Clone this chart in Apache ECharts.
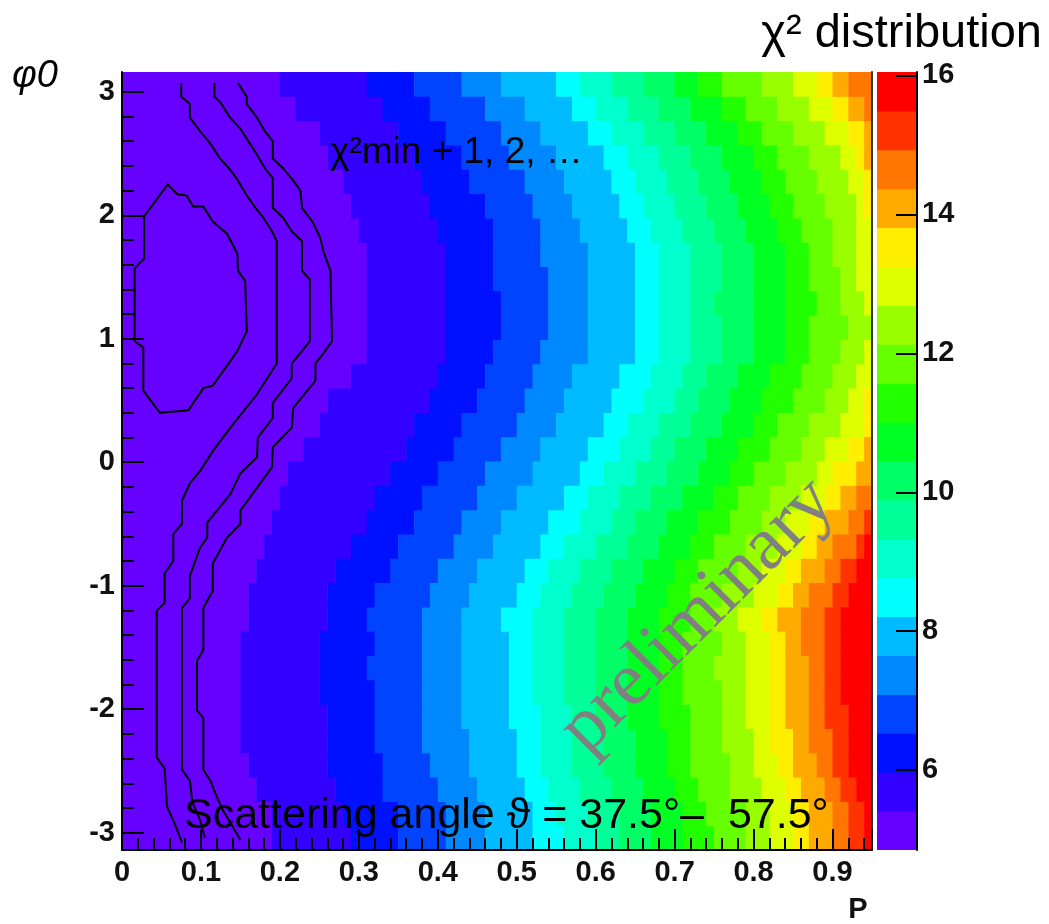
<!DOCTYPE html>
<html>
<head>
<meta charset="utf-8">
<title>χ² distribution</title>
<script src="https://cdn.jsdelivr.net/npm/echarts@6.0.0/dist/echarts.min.js"></script>
<style>
  html, body { margin: 0; padding: 0; background: #fff; }
  #chart { width: 1049px; height: 924px; }
</style>
</head>
<body>
<div id="chart"></div>
<script>
// chi2 contour levels (colour band edges)
var levelEdges = [4.85, 5.41, 5.97, 6.53, 7.09, 7.65, 8.21, 8.77, 9.33, 9.89, 10.45,
                  11.01, 11.57, 12.13, 12.69, 13.25, 13.81, 14.37, 14.93, 15.49, 16.05];
var bandColors = ['#6600ff', '#3300ff', '#0011ff', '#0044ff', '#0088ff', '#00bbff', '#00ffff',
                  '#00ffcc', '#00ff99', '#00ff66', '#00ff22', '#22ff00', '#66ff00', '#99ff00',
                  '#ddff00', '#ffee00', '#ffaa00', '#ff7700', '#ff3300', '#ff0000'];

// P bins (0.01 wide, 0 .. 0.95) and phi0 range
var pBinWidth = 0.01;
var nPBins = 95;
var phiMin = -3.14, phiMax = 3.16;

// for each phi0 row (bottom -> top): P bin at which colour band 1..19 starts (95 = not reached)
var bandStartCol = [
  [19, 29, 35, 41, 46, 52, 56, 60, 63, 67, 71, 75, 79, 82, 85, 87, 90, 92, 94],
  [19, 28, 35, 41, 46, 52, 55, 59, 63, 67, 71, 74, 79, 82, 85, 87, 90, 92, 94],
  [17, 27, 33, 40, 45, 51, 54, 58, 62, 66, 70, 73, 77, 81, 84, 86, 89, 91, 93],
  [16, 26, 33, 39, 44, 50, 53, 57, 61, 65, 69, 72, 77, 80, 83, 85, 88, 90, 92],
  [15, 26, 32, 38, 44, 50, 53, 57, 61, 65, 69, 72, 76, 80, 82, 85, 87, 90, 92],
  [15, 26, 32, 38, 43, 49, 53, 57, 60, 64, 68, 72, 76, 79, 82, 84, 87, 89, 92],
  [15, 25, 32, 38, 43, 49, 52, 56, 60, 64, 68, 71, 76, 79, 82, 84, 87, 89, 91],
  [15, 25, 31, 38, 43, 49, 52, 56, 60, 64, 68, 71, 75, 79, 82, 84, 87, 89, 91],
  [15, 25, 32, 38, 43, 49, 52, 56, 60, 64, 68, 71, 76, 79, 82, 84, 86, 89, 91],
  [16, 26, 31, 38, 43, 48, 52, 56, 60, 64, 68, 72, 75, 78, 81, 83, 86, 89, 91],
  [16, 26, 32, 39, 44, 50, 53, 57, 61, 65, 69, 72, 76, 80, 83, 85, 87, 90, 92],
  [17, 27, 34, 40, 45, 51, 54, 58, 62, 66, 70, 73, 78, 81, 84, 86, 89, 91, 93],
  [18, 29, 35, 42, 47, 53, 56, 60, 64, 68, 72, 75, 79, 83, 86, 88, 90, 93, 94],
  [19, 31, 37, 43, 48, 54, 58, 62, 65, 69, 73, 77, 81, 84, 87, 89, 92, 94, 95],
  [20, 32, 38, 45, 50, 56, 59, 63, 67, 71, 75, 78, 82, 86, 89, 91, 93, 95, 95],
  [21, 34, 40, 46, 52, 58, 61, 65, 69, 73, 77, 80, 84, 88, 90, 93, 95, 95, 95],
  [23, 36, 42, 48, 53, 59, 63, 67, 70, 74, 78, 82, 86, 89, 92, 94, 95, 95, 95],
  [25, 37, 43, 50, 55, 61, 64, 68, 72, 76, 80, 83, 87, 91, 94, 95, 95, 95, 95],
  [26, 39, 45, 51, 56, 62, 66, 70, 73, 77, 81, 85, 89, 92, 94, 95, 95, 95, 95],
  [29, 40, 46, 52, 57, 63, 67, 71, 74, 78, 82, 86, 90, 93, 95, 95, 95, 95, 95],
  [31, 41, 47, 53, 59, 65, 68, 72, 76, 80, 84, 87, 91, 94, 95, 95, 95, 95, 95],
  [31, 41, 48, 54, 59, 65, 68, 72, 76, 80, 84, 87, 92, 95, 95, 95, 95, 95, 95],
  [31, 41, 48, 54, 59, 65, 68, 72, 75, 80, 84, 88, 91, 94, 95, 95, 95, 95, 95],
  [31, 41, 47, 54, 59, 65, 68, 72, 76, 80, 84, 87, 91, 93, 95, 95, 95, 95, 95],
  [31, 41, 47, 53, 59, 65, 68, 72, 76, 80, 84, 87, 90, 93, 95, 95, 95, 95, 95],
  [30, 40, 47, 53, 58, 64, 67, 71, 75, 79, 83, 86, 90, 93, 95, 95, 95, 95, 95],
  [29, 39, 46, 52, 57, 63, 66, 70, 74, 78, 82, 85, 89, 93, 94, 95, 95, 95, 95],
  [28, 38, 44, 51, 56, 62, 65, 69, 73, 77, 81, 84, 88, 92, 94, 95, 95, 95, 95],
  [26, 37, 43, 49, 55, 61, 64, 68, 72, 76, 80, 83, 87, 91, 93, 94, 95, 95, 95],
  [25, 35, 41, 48, 53, 59, 62, 66, 70, 74, 78, 81, 85, 89, 92, 94, 95, 95, 95],
  [22, 33, 39, 46, 51, 57, 60, 64, 68, 72, 76, 79, 83, 87, 90, 92, 94, 95, 95],
  [20, 31, 37, 43, 48, 55, 58, 62, 66, 70, 73, 76, 81, 85, 88, 90, 92, 95, 95]
];

// chi2min + 1, 2, 3, 4 contours, [P, phi0]
var contour1 = [[0.028, 1.99], [0.058, 2.25], [0.070, 2.17], [0.082, 2.16], [0.090, 2.07], [0.103, 2.07],
  [0.115, 1.95], [0.133, 1.85], [0.146, 1.69], [0.147, 1.55], [0.156, 1.47], [0.158, 1.06], [0.146, 0.90],
  [0.115, 0.62], [0.103, 0.60], [0.084, 0.42], [0.048, 0.40], [0.027, 0.58], [0.027, 0.93], [0.016, 0.98],
  [0.016, 1.57], [0.028, 1.65], [0.028, 1.99]];
var contour2 = [[0.075, 3.07], [0.075, 2.96], [0.086, 2.90], [0.086, 2.79], [0.099, 2.68], [0.112, 2.58],
  [0.124, 2.46], [0.137, 2.37], [0.147, 2.28], [0.158, 2.16], [0.169, 2.06], [0.179, 1.98], [0.190, 1.87],
  [0.196, 1.79], [0.196, 0.80], [0.171, 0.55], [0.141, 0.31], [0.115, 0.09], [0.099, -0.07], [0.086, -0.17],
  [0.076, -0.31], [0.076, -0.50], [0.065, -0.58], [0.065, -0.80], [0.054, -0.90], [0.054, -1.14],
  [0.044, -1.20], [0.044, -2.39], [0.054, -2.48], [0.057, -2.79], [0.065, -2.90], [0.076, -3.08]];
var contour3 = [[0.117, 3.07], [0.117, 2.96], [0.124, 2.92], [0.137, 2.79], [0.150, 2.70], [0.160, 2.60],
  [0.171, 2.49], [0.181, 2.38], [0.191, 2.30], [0.191, 2.06], [0.204, 1.98], [0.215, 1.87], [0.228, 1.79],
  [0.228, 1.55], [0.238, 1.48], [0.238, 0.98], [0.228, 0.90], [0.215, 0.80], [0.215, 0.68], [0.191, 0.48],
  [0.191, 0.36], [0.172, 0.20], [0.171, 0.04], [0.150, -0.09], [0.137, -0.26], [0.108, -0.49],
  [0.108, -0.61], [0.099, -0.69], [0.086, -0.92], [0.086, -1.10], [0.076, -1.18], [0.076, -2.49],
  [0.086, -2.58], [0.089, -2.75], [0.099, -2.90], [0.105, -3.04]];
var contour4 = [[0.147, 3.07], [0.158, 2.96], [0.158, 2.90], [0.171, 2.79], [0.181, 2.68], [0.191, 2.60],
  [0.191, 2.46], [0.204, 2.38], [0.217, 2.28], [0.226, 2.20], [0.228, 2.06], [0.241, 1.95], [0.251, 1.82],
  [0.255, 1.71], [0.264, 1.55], [0.266, 0.98], [0.255, 0.88], [0.245, 0.80], [0.245, 0.66], [0.217, 0.44],
  [0.215, 0.28], [0.191, 0.12], [0.190, -0.04], [0.150, -0.39], [0.150, -0.50], [0.133, -0.61],
  [0.115, -0.82], [0.115, -1.04], [0.103, -1.18], [0.103, -1.52], [0.095, -1.61], [0.095, -2.01],
  [0.103, -2.07], [0.103, -2.49], [0.112, -2.58], [0.120, -2.71], [0.128, -2.82], [0.141, -2.96],
  [0.150, -3.06]];

var yTicks = [-3, -2, -1, 0, 1, 2, 3];
var zTicks = [6, 8, 10, 12, 14, 16];

// build cells: one rect per run of equal colour band in a row
var dPhi = (phiMax - phiMin) / bandStartCol.length;
var cells = [];
bandStartCol.forEach(function (starts, r) {
  var y0 = phiMin + r * dPhi;
  var edges = [0].concat(starts.filter(function (c) { return c < nPBins; }), [nPBins]);
  for (var k = 0; k < edges.length - 1; k++) {
    if (edges[k + 1] <= edges[k]) continue;
    cells.push([edges[k] * pBinWidth, edges[k + 1] * pBinWidth, y0, y0 + dPhi,
      (levelEdges[k] + levelEdges[k + 1]) / 2]);
  }
});
var paletteCells = [];
for (var i = 0; i < levelEdges.length - 1; i++) {
  paletteCells.push([0, 1, levelEdges[i], levelEdges[i + 1], (levelEdges[i] + levelEdges[i + 1]) / 2]);
}
var pieces = [];
for (var j = 0; j < bandColors.length; j++) {
  pieces.push({ gte: levelEdges[j], lt: levelEdges[j + 1], color: bandColors[j] });
}

var minorY = [];
for (var t = -30; t <= 30; t += 2) {
  if (t % 10 !== 0) minorY.push(t / 10);
}

function renderRect(params, api) {
  var a = api.coord([api.value(0), api.value(3)]);
  var b = api.coord([api.value(1), api.value(2)]);
  return {
    type: 'rect',
    shape: { x: a[0], y: a[1] - 0.5, width: b[0] - a[0] + 0.5, height: b[1] - a[1] + 1 },
    style: { fill: api.visual('color') }
  };
}

var tickFont = { fontSize: 29, fontWeight: 'bold', fontFamily: 'Liberation Sans', color: '#111' };
var blackLine = { color: '#000', width: 2 };

var contourSeries = [contour1, contour2, contour3, contour4].map(function (d, n) {
  return {
    name: 'chi2min+' + (n + 1),
    type: 'line',
    xAxisIndex: 0,
    yAxisIndex: 0,
    data: d,
    showSymbol: false,
    silent: true,
    lineStyle: { color: '#000', width: 2 },
    z: 5
  };
});

var myChart = echarts.init(document.getElementById('chart'));
var option = {
  animation: false,
  backgroundColor: '#fff',
  grid: [
    { left: 122, top: 72, width: 750, height: 778 },
    { left: 877, top: 72, width: 40, height: 778 }
  ],
  xAxis: [
    {
      gridIndex: 0, type: 'value', min: 0, max: 0.95, interval: 0.1, z: 10,
      axisLine: { onZero: false, lineStyle: blackLine },
      axisTick: { inside: true, length: 21, lineStyle: blackLine },
      minorTick: { show: true, splitNumber: 5, length: 12, lineStyle: blackLine },
      axisLabel: Object.assign({ margin: 8, formatter: function (v) { return v === 0 ? '0' : v.toFixed(1); } }, tickFont),
      splitLine: { show: false }
    },
    { gridIndex: 1, type: 'value', min: 0, max: 1, show: false }
  ],
  yAxis: [
    {
      gridIndex: 0, type: 'value', min: phiMin, max: phiMax, z: 10,
      axisLine: { onZero: false, lineStyle: blackLine },
      axisTick: { inside: true, length: 22, customValues: yTicks, lineStyle: blackLine },
      axisLabel: Object.assign({ margin: 7, customValues: yTicks }, tickFont),
      splitLine: { show: false }
    },
    {
      gridIndex: 0, type: 'value', min: phiMin, max: phiMax, position: 'left', z: 10,
      axisLine: { show: false, onZero: false },
      axisTick: { inside: true, length: 12, customValues: minorY, lineStyle: blackLine },
      axisLabel: { show: false },
      splitLine: { show: false }
    },
    {
      gridIndex: 0, type: 'value', min: phiMin, max: phiMax, position: 'right', z: 10,
      axisLine: { onZero: false, lineStyle: { color: '#333', width: 2 } },
      axisTick: { show: false }, axisLabel: { show: false }, splitLine: { show: false }
    },
    {
      gridIndex: 1, type: 'value', min: levelEdges[0], max: levelEdges[levelEdges.length - 1], position: 'right', z: 10,
      axisLine: { onZero: false, lineStyle: blackLine },
      axisTick: { inside: true, length: 21, customValues: zTicks, lineStyle: blackLine },
      axisLabel: Object.assign({ margin: 5, customValues: zTicks }, tickFont),
      splitLine: { show: false }
    }
  ],
  visualMap: {
    type: 'piecewise',
    show: false,
    dimension: 4,
    seriesIndex: [0, 1],
    pieces: pieces
  },
  series: [
    {
      name: 'chi2', type: 'custom', xAxisIndex: 0, yAxisIndex: 0,
      renderItem: renderRect, encode: { x: [0, 1], y: [2, 3] },
      data: cells, clip: true, silent: true
    },
    {
      name: 'palette', type: 'custom', xAxisIndex: 1, yAxisIndex: 3,
      renderItem: renderRect, encode: { x: [0, 1], y: [2, 3] },
      data: paletteCells, clip: true, silent: true
    }
  ].concat(contourSeries),
  graphic: [
    {
      type: 'text', x: 1042, y: 34,
      style: { text: 'χ² distribution', fontSize: 47, fontFamily: 'Liberation Sans', fill: '#000',
               align: 'right', verticalAlign: 'middle', textAlign: 'right', textVerticalAlign: 'middle' }
    },
    {
      type: 'text', x: 12, y: 76,
      style: { text: 'φ0', fontSize: 38, fontStyle: 'italic', fontFamily: 'Liberation Sans', fill: '#000',
               align: 'left', verticalAlign: 'middle', textAlign: 'left', textVerticalAlign: 'middle' }
    },
    {
      type: 'text', x: 330, y: 153, z: 10,
      style: { text: 'χ²min + 1, 2, …', fontSize: 37, fontFamily: 'Liberation Sans', fill: '#000',
               align: 'left', verticalAlign: 'middle', textAlign: 'left', textVerticalAlign: 'middle' }
    },
    {
      type: 'text', x: 184, y: 816, z: 10,
      style: { text: 'Scattering angle ϑ = 37.5°–  57.5°', fontSize: 43, fontFamily: 'Liberation Sans', fill: '#000',
               align: 'left', verticalAlign: 'middle', textAlign: 'left', textVerticalAlign: 'middle' }
    },
    {
      type: 'text', x: 698, y: 616, rotation: Math.PI / 4, z: 10,
      style: { text: 'preliminary', fontSize: 76, fontFamily: 'Liberation Serif', fill: '#808080',
               align: 'center', verticalAlign: 'middle', textAlign: 'center', textVerticalAlign: 'middle' }
    },
    {
      type: 'text', x: 858, y: 910,
      style: { text: 'P', fontSize: 29, fontWeight: 'bold', fontFamily: 'Liberation Sans', fill: '#111',
               align: 'center', verticalAlign: 'middle', textAlign: 'center', textVerticalAlign: 'middle' }
    }
  ]
};
option && myChart.setOption(option);
</script>
</body>
</html>
